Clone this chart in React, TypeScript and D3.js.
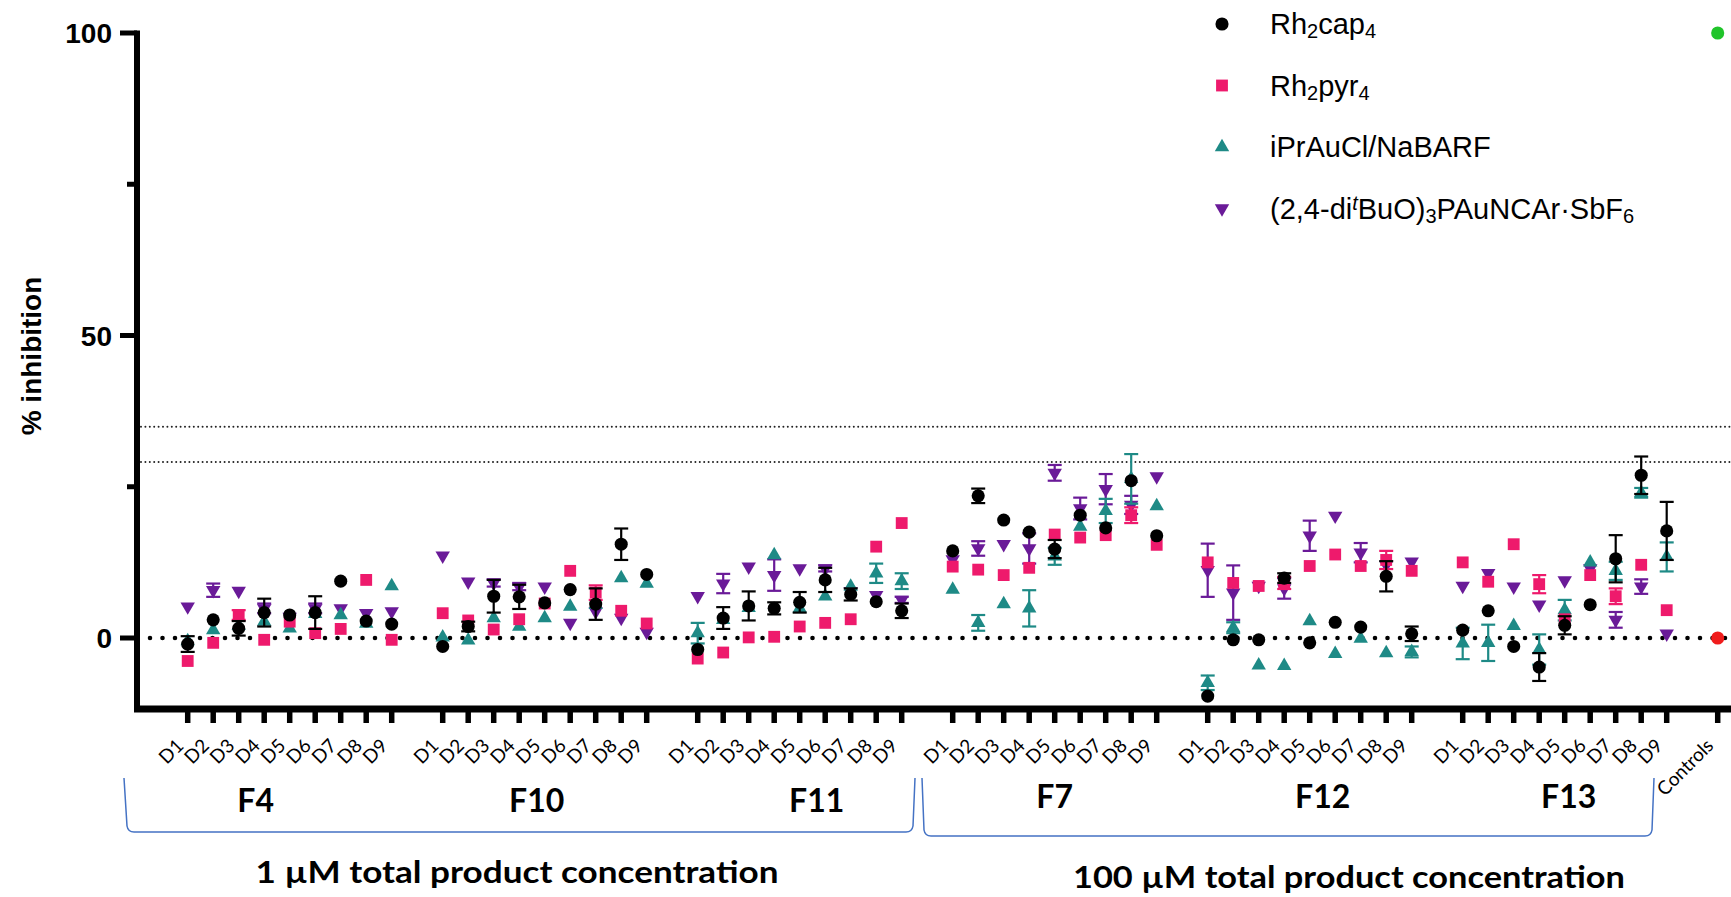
import React from 'react';
import * as d3 from 'd3';

// Fractions (groups on the x axis) and the dilutions tested within each
const fractions = ['F4', 'F10', 'F11', 'F7', 'F12', 'F13'];
const dilutions = ['D1', 'D2', 'D3', 'D4', 'D5', 'D6', 'D7', 'D8', 'D9'];
const concentrationLabels = ['1 µM total product concentration', '100 µM total product concentration'];

// % inhibition, ordered F4, F10, F11, F7, F12, F13 (D1..D9 each)
const rh2cap4 = [
  -1.0, 3.0, 1.6, 4.2, 3.8, 4.2, 9.4, 2.8, 2.3,
  -1.4, 1.9, 6.9, 6.8, 5.8, 8.0, 5.6, 15.5, 10.5,
  -1.9, 3.3, 5.3, 4.9, 5.9, 9.6, 7.2, 6.0, 4.5,
  14.4, 23.5, 19.5, 17.5, 14.7, 20.3, 18.2, 26.0, 16.9,
  -9.6, -0.3, -0.3, 9.9, -0.8, 2.6, 1.8, 10.2, 0.7,
  1.3, 4.5, -1.4, -4.8, 2.1, 5.5, 13.1, 26.9, 17.7,
];
const rh2cap4Sd = [
  1.3, 0, 1.2, 2.3, 0, 2.7, 0, 0, 0,
  0, 0.8, 2.7, 2.0, 0, 0, 2.6, 2.6, 0,
  0, 1.8, 2.4, 1.0, 1.7, 2.0, 1.0, 0, 1.2,
  0, 1.2, 0, 0, 1.5, 0, 0, 0, 0,
  0, 0, 0, 0.8, 0, 0, 0, 2.5, 1.2,
  0, 0, 0, 2.3, 1.5, 0, 3.9, 3.1, 4.8,
];

const rh2pyr4 = [
  -3.8, -0.8, 3.8, -0.3, 2.7, 0.8, 1.5, 9.6, -0.3,
  4.1, 2.9, 1.4, 3.1, 5.7, 11.1, 7.5, 4.5, 2.4,
  -3.4, -2.4, 0.1, 0.2, 1.9, 2.5, 3.1, 15.1, 19.0,
  11.8, 11.3, 10.4, 11.6, 17.1, 16.6, 17.0, 20.3, 15.4,
  12.5, 9.1, 8.6, 9.1, 11.9, 13.8, 11.9, 12.9, 11.1,
  12.5, 9.3, 15.5, 8.9, 3.1, 10.4, 6.9, 12.1, 4.6,
];
const rh2pyr4Sd = [
  0, 0, 0.8, 0, 0, 0, 0, 0, 0,
  0, 0, 0, 0, 0, 0, 1.2, 0, 0,
  0, 0, 0, 0, 0, 0, 0, 0, 0,
  0, 0, 0, 0, 0, 0, 0, 1.3, 0,
  0, 0, 0, 1.0, 0, 0, 0, 1.5, 0,
  0, 0, 0, 1.5, 0, 0, 1.3, 0, 0,
];

const iPrAuCl = [
  -0.5, 1.3, 2.0, 2.7, 1.6, 4.0, 3.8, 2.4, 8.6,
  0.1, -0.4, 3.3, 1.9, 3.3, 5.2, 5.5, 9.9, 9.0,
  0.8, 3.0, 5.0, 13.7, 4.9, 6.9, 8.5, 10.7, 9.4,
  8.0, 2.5, 5.6, 4.9, 13.5, 18.4, 21.0, 26.3, 21.8,
  -7.4, 1.7, -4.5, -4.6, 2.8, -2.6, -0.1, -2.5, -2.3,
  -0.9, -0.8, 2.0, -1.9, 4.6, 12.5, 11.1, 24.0, 13.4,
];
const iPrAuClSd = [
  0, 0, 0, 0, 0, 0, 0, 0, 0,
  0, 0, 0, 0, 0, 0, 0, 0, 0,
  1.7, 0, 0, 0, 0, 0, 0, 1.6, 1.3,
  0, 1.3, 0, 3.0, 1.4, 0, 2.0, 4.1, 0,
  1.2, 0.9, 0, 0, 0, 0, 0, 0, 0.9,
  2.6, 3.0, 0, 2.5, 1.7, 0, 1.5, 0.8, 2.4,
];

const phosphiteAu = [
  5.2, 7.9, 7.8, 4.9, 3.5, 4.9, 4.9, 4.1, 4.4,
  13.6, 9.3, 9.1, 8.5, 8.5, 2.5, 4.4, 3.3, 1.0,
  6.9, 9.0, 11.8, 10.4, 11.5, 11.5, 7.7, 7.1, 6.3,
  13.0, 14.8, 15.5, 14.8, 27.3, 21.4, 24.6, 22.0, 26.7,
  11.2, 7.5, 8.6, 8.2, 16.9, 20.2, 14.1, 12.1, 12.6,
  8.6, 10.7, 8.5, 5.5, 9.5, 11.5, 3.0, 8.5, 0.7,
];
const phosphiteAuSd = [
  0, 1.1, 0, 0.8, 0, 0.8, 0, 0, 0,
  0, 0, 0.6, 0.6, 0, 0, 0, 0, 0,
  0, 1.6, 0, 2.6, 0, 0.5, 0, 0, 0.5,
  0, 1.2, 0, 2.5, 1.3, 1.8, 2.5, 1.5, 0,
  4.4, 4.5, 0, 1.7, 2.5, 0, 1.6, 0, 0,
  0, 0, 0, 0, 0, 0, 1.3, 1.2, 0,
];

// Controls: positive (full inhibition) and negative
const positiveControl = 100;
const negativeControl = 0;
// Hit thresholds
const thresholds = [34.9, 29.1];
const yTicksMajor = [0, 50, 100];
const yTicksMinor = [25, 75];

// ---- layout ----
const W = 1731;
const H = 897;
const SLOTS_PER_GROUP = 10; // 9 dilutions + gap
const CONTROL_SLOT = fractions.length * SLOTS_PER_GROUP;
const AXIS_X = 137;
const AXIS_Y = 709;
const fractionLabelShift = [-34, -8, 17, 0, 13, 4];

const COLORS = {
  black: '#000000',
  pink: '#EE1A6C',
  teal: '#1E8A86',
  purple: '#6A1A98',
  red: '#F01C1C',
  green: '#20C42A',
  blue: '#4472C4',
};

const x = d3.scaleLinear().domain([0, CONTROL_SLOT]).range([187.7, 1717.7]);
const y = d3.scaleLinear().domain([-12, 100]).range([710.6, 33]);

const slotOf = (i: number) => Math.floor(i / dilutions.length) * SLOTS_PER_GROUP + (i % dilutions.length);

const circlePath = d3.symbol(d3.symbolCircle, 135)() as string;
const squarePath = d3.symbol(d3.symbolSquare, 140)() as string;
const trianglePath = d3.symbol(d3.symbolTriangle, 90)() as string;

type Series = {
  key: string;
  values: number[];
  sd: number[];
  color: string;
  path: string;
  rotate: number;
};

// drawn bottom to top
const series: Series[] = [
  { key: 'phosphite', values: phosphiteAu, sd: phosphiteAuSd, color: COLORS.purple, path: trianglePath, rotate: 180 },
  { key: 'ipr', values: iPrAuCl, sd: iPrAuClSd, color: COLORS.teal, path: trianglePath, rotate: 0 },
  { key: 'pyr', values: rh2pyr4, sd: rh2pyr4Sd, color: COLORS.pink, path: squarePath, rotate: 0 },
  { key: 'cap', values: rh2cap4, sd: rh2cap4Sd, color: COLORS.black, path: circlePath, rotate: 0 },
];

const legendOrder = ['cap', 'pyr', 'ipr', 'phosphite'];

function LegendLabel({ k }: { k: string }) {
  const sub = { fontSize: 20, baselineShift: '-22%' } as React.CSSProperties;
  if (k === 'cap')
    return (<>Rh<tspan style={sub}>2</tspan>cap<tspan style={sub}>4</tspan></>);
  if (k === 'pyr')
    return (<>Rh<tspan style={sub}>2</tspan>pyr<tspan style={sub}>4</tspan></>);
  if (k === 'ipr') return <>iPrAuCl/NaBARF</>;
  return (
    <>
      (2,4-di<tspan style={{ fontSize: 20, fontStyle: 'italic', baselineShift: '45%' }}>t</tspan>BuO)
      <tspan style={sub}>3</tspan>PAuNCAr·SbF<tspan style={sub}>6</tspan>
    </>
  );
}

export default function App() {
  const sansBold = '"Liberation Sans", Arial, sans-serif';
  const labelFont = 'Lato, "Open Sans", sans-serif';
  const bySeries = Object.fromEntries(series.map((s) => [s.key, s]));

  const groupCenter = (g: number) => x(g * SLOTS_PER_GROUP + (dilutions.length - 1) / 2);

  return (
    <svg width={W} height={H} style={{ position: 'absolute', left: 0, top: 0, background: '#fff' }}>
      <rect width={W} height={H} fill="#fff" />

      {/* threshold lines */}
      {thresholds.map((t) => (
        <line key={t} x1={141} x2={W} y1={y(t)} y2={y(t)} stroke="#222" strokeWidth={2}
          strokeDasharray="0 4.4" strokeLinecap="round" />
      ))}
      {/* zero line */}
      <line x1={150} x2={W} y1={y(0)} y2={y(0)} stroke="#000" strokeWidth={4.6}
        strokeDasharray="0 12.5" strokeLinecap="round" />

      {/* axes */}
      <line x1={AXIS_X} x2={AXIS_X} y1={y(100) - 2.5} y2={AXIS_Y} stroke="#000" strokeWidth={6} />
      <line x1={AXIS_X - 3} x2={W} y1={AXIS_Y} y2={AXIS_Y} stroke="#000" strokeWidth={7} />
      {yTicksMajor.map((t) => (
        <g key={t}>
          <line x1={120} x2={AXIS_X} y1={y(t)} y2={y(t)} stroke="#000" strokeWidth={5} />
          <text x={112} y={y(t)} dy="0.36em" textAnchor="end" fontFamily={sansBold} fontWeight="bold"
            fontSize={28}>{t}</text>
        </g>
      ))}
      {yTicksMinor.map((t) => (
        <line key={t} x1={127} x2={AXIS_X} y1={y(t)} y2={y(t)} stroke="#000" strokeWidth={5} />
      ))}
      <text transform={`translate(41,356) rotate(-90)`} textAnchor="middle" fontFamily={sansBold}
        fontWeight="bold" fontSize={28}>% inhibition</text>

      {/* x ticks and dilution labels */}
      {rh2cap4.map((_, i) => {
        const sx = x(slotOf(i));
        return (
          <g key={i}>
            <line x1={sx} x2={sx} y1={AXIS_Y} y2={723} stroke="#000" strokeWidth={5.5} />
            <text transform={`translate(${sx - 3},747) rotate(-45)`} textAnchor="end" fontFamily={labelFont}
              fontSize={19}>{dilutions[i % dilutions.length]}</text>
          </g>
        );
      })}
      <line x1={x(CONTROL_SLOT)} x2={x(CONTROL_SLOT)} y1={AXIS_Y} y2={723} stroke="#000" strokeWidth={5.5} />
      <text transform={`translate(${x(CONTROL_SLOT) - 3},747) rotate(-45)`} textAnchor="end"
        fontFamily={labelFont} fontSize={19}>Controls</text>

      {/* error bars and markers */}
      {series.map((s) => (
        <g key={s.key}>
          {s.values.map((v, i) => {
            const sd = s.sd[i];
            if (!sd) return null;
            const cx = x(slotOf(i));
            return (
              <g key={i} stroke={s.color} strokeWidth={2.2}>
                <line x1={cx} x2={cx} y1={y(v - sd)} y2={y(v + sd)} />
                <line x1={cx - 7} x2={cx + 7} y1={y(v - sd)} y2={y(v - sd)} />
                <line x1={cx - 7} x2={cx + 7} y1={y(v + sd)} y2={y(v + sd)} />
              </g>
            );
          })}
          {s.values.map((v, i) => (
            <path key={i} d={s.path} fill={s.color}
              transform={`translate(${x(slotOf(i))},${y(v)}) rotate(${s.rotate})`} />
          ))}
        </g>
      ))}

      {/* controls */}
      <path d={circlePath} fill={COLORS.red} transform={`translate(${x(CONTROL_SLOT)},${y(negativeControl)})`} />
      <path d={circlePath} fill={COLORS.green} transform={`translate(${x(CONTROL_SLOT)},${y(positiveControl)})`} />

      {/* legend */}
      {legendOrder.map((k, i) => {
        const s = bySeries[k];
        const ly = 24 + i * 61.5;
        return (
          <g key={k}>
            <path d={s.path} fill={s.color} transform={`translate(1222,${ly}) rotate(${s.rotate})`} />
            <text x={1270} y={ly} dy="0.36em" fontFamily='"Liberation Sans", Arial, sans-serif' fontSize={29}>
              <LegendLabel k={k} />
            </text>
          </g>
        );
      })}

      {/* fraction labels */}
      {fractions.map((f, g) => (
        <text key={f} x={groupCenter(g) + fractionLabelShift[g]} y={g < 3 ? 812 : 808} textAnchor="middle"
          fontFamily={labelFont} fontWeight="bold" fontSize={32}>{f}</text>
      ))}

      {/* concentration brackets */}
      <path d="M124,778 L127,826 Q128,832 134,832 L906,832 Q912,832 913,826 L915,778"
        fill="none" stroke={COLORS.blue} strokeWidth={1.5} />
      <path d="M922,778 L924,830 Q925,836 931,836 L1645,836 Q1651,836 1652,830 L1654,778"
        fill="none" stroke={COLORS.blue} strokeWidth={1.5} />

      <text x={517} y={883} textAnchor="middle" fontFamily={labelFont} fontWeight="bold" fontSize={30}
        textLength={523} lengthAdjust="spacingAndGlyphs">{concentrationLabels[0]}</text>
      <text x={1349} y={888} textAnchor="middle" fontFamily={labelFont} fontWeight="bold" fontSize={30}
        textLength={552} lengthAdjust="spacingAndGlyphs">{concentrationLabels[1]}</text>
    </svg>
  );
}
